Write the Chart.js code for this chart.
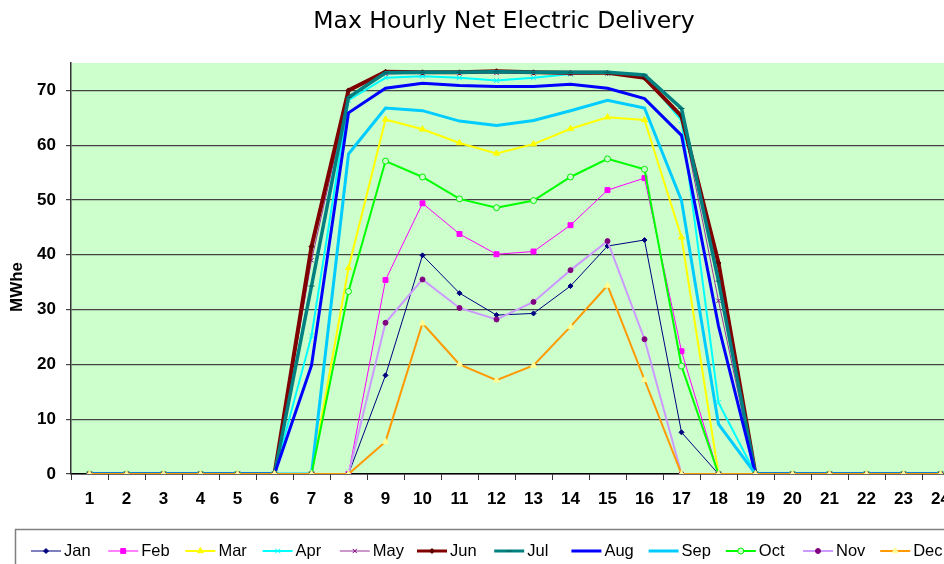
<!DOCTYPE html>
<html>
<head>
<meta charset="utf-8">
<title>Max Hourly Net Electric Delivery</title>
<script src="https://cdn.jsdelivr.net/npm/chart.js"></script>
<style>
  html, body { margin: 0; padding: 0; background: #fff; overflow: hidden; }
  canvas { display: block; }
</style>
</head>
<body>
<canvas id="deliveryChart" width="1008" height="564"></canvas>
<script>
const hours = ['1','2','3','4','5','6','7','8','9','10','11','12','13','14','15','16','17','18','19','20','21','22','23','24'];
const monthNames = ['Jan','Feb','Mar','Apr','May','Jun','Jul','Aug','Sep','Oct','Nov','Dec'];

const jan = [0,0,0,0,0,0,0,0,18.0,39.9,33.0,29.0,29.3,34.3,41.6,42.7,7.6,0,0,0,0,0,0,0];
const feb = [0,0,0,0,0,0,0,0,35.4,49.4,43.8,40.1,40.6,45.4,51.8,54.0,22.4,0,0,0,0,0,0,0];
const mar = [0,0,0,0,0,0,0,37.6,64.7,62.9,60.4,58.5,60.2,63.0,65.1,64.6,43.2,0,0,0,0,0,0,0];
const apr = [0,0,0,0,0,0,25.2,68.2,72.3,72.6,72.3,71.8,72.3,73.0,73.2,72.6,64.5,13.0,0,0,0,0,0,0];
const may = [0,0,0,0,0,0,39.0,69.0,73.0,73.1,73.1,73.2,73.1,73.0,73.1,72.5,65.5,31.6,0,0,0,0,0,0];
const jun = [0,0,0,0,0,0,41.5,70.0,73.4,73.3,73.3,73.5,73.3,73.2,73.2,72.3,65.3,38.5,0,0,0,0,0,0];
const jul = [0,0,0,0,0,0,34.3,68.7,73.2,73.3,73.3,73.4,73.3,73.3,73.3,72.8,66.7,35.2,0,0,0,0,0,0];
const aug = [0,0,0,0,0,0,19.8,65.9,70.4,71.3,70.9,70.7,70.7,71.1,70.4,68.5,61.8,27.0,0,0,0,0,0,0];
const sep = [0,0,0,0,0,0,0,58.4,66.8,66.3,64.4,63.6,64.5,66.3,68.2,66.8,49.9,9.1,0,0,0,0,0,0];
const oct = [0,0,0,0,0,0,0,33.3,57.1,54.2,50.2,48.6,49.9,54.2,57.5,55.6,19.7,0,0,0,0,0,0,0];
const nov = [0,0,0,0,0,0,0,0,27.6,35.5,30.3,28.2,31.4,37.2,42.5,24.6,0,0,0,0,0,0,0,0];
const dec = [0,0,0,0,0,0,0,0,5.9,27.5,20.0,17.1,19.8,26.9,34.4,17.2,0,0,0,0,0,0,0,0];

const yTicks = [0,10,20,30,40,50,60,70];

// look of each month's line, in month order
const styles = [
  { color: '#000080', width: 1,   point: 'rectRot',  radius: 2.5, fill: '#000080', edge: '#000080' },
  { color: '#FF00FF', width: 1,   point: 'rect',     radius: 3.5, fill: '#FF00FF', edge: '#FF00FF' },
  { color: '#FFFF00', width: 2,   point: 'triangle', radius: 3.5, fill: '#FFFF00', edge: '#FFFF00' },
  { color: '#00FFFF', width: 2,   point: 'crossRot', radius: 3.5, fill: '#00FFFF', edge: '#00FFFF' },
  { color: '#993399', width: 1,   point: 'crossRot', radius: 3,   fill: '#800080', edge: '#800080' },
  { color: '#800000', width: 4,   point: 'rectRot',  radius: 2.5, fill: '#600000', edge: '#600000' },
  { color: '#008080', width: 3.5, point: 'line',     radius: 3,   fill: '#006060', edge: '#006060' },
  { color: '#0000FF', width: 3,   point: false,      radius: 0,   fill: '#0000FF', edge: '#0000FF' },
  { color: '#00CCFF', width: 3,   point: false,      radius: 0,   fill: '#00CCFF', edge: '#00CCFF' },
  { color: '#00FF00', width: 2,   point: 'circle',   radius: 3,   fill: '#CCFFCC', edge: '#00EE00' },
  { color: '#CC99FF', width: 2,   point: 'circle',   radius: 2.5, fill: '#800080', edge: '#800080' },
  { color: '#FF9900', width: 2,   point: 'triangle', radius: 3.5, fill: '#FFFF99', edge: '#FFFF99' }
];

const series = [jan, feb, mar, apr, may, jun, jul, aug, sep, oct, nov, dec];

const datasets = series.map((values, i) => {
  const s = styles[i];
  return {
    label: monthNames[i],
    data: values,
    borderColor: s.color,
    borderWidth: s.width,
    backgroundColor: s.fill,
    pointStyle: s.point,
    pointRadius: s.radius,
    pointBackgroundColor: s.fill,
    pointBorderColor: s.edge,
    pointBorderWidth: 1,
    tension: 0,
    fill: false,
    order: series.length - 1 - i
  };
});

const extras = {
  id: 'extras',
  beforeDraw(chart) {
    const { ctx, chartArea } = chart;
    ctx.save();
    ctx.fillStyle = '#CCFFCC';
    ctx.fillRect(chartArea.left, chartArea.top, chartArea.right - chartArea.left, chartArea.bottom - chartArea.top);
    ctx.restore();
  },
  afterDraw(chart) {
    const { ctx } = chart;
    ctx.save();

    // title
    ctx.fillStyle = '#000';
    ctx.font = '23.5px "DejaVu Sans"';
    ctx.textAlign = 'center';
    ctx.textBaseline = 'alphabetic';
    ctx.fillText('Max Hourly Net Electric Delivery', 504, 28);

    // y axis title
    ctx.save();
    ctx.translate(17, 287);
    ctx.rotate(-Math.PI / 2);
    ctx.font = 'bold 17px "Liberation Sans"';
    ctx.textBaseline = 'middle';
    ctx.fillText('MWhe', 0, 0);
    ctx.restore();

    // legend
    ctx.strokeStyle = '#808080';
    ctx.lineWidth = 1.5;
    ctx.strokeRect(15.5, 529.5, 1100, 60);
    ctx.font = '16.5px "Liberation Sans"';
    ctx.textAlign = 'left';
    ctx.textBaseline = 'middle';
    const ly = 551;
    chart.data.datasets.forEach((ds, i) => {
      const s = styles[i];
      const x0 = 31 + i * 77.2;
      ctx.strokeStyle = s.color;
      ctx.lineWidth = Math.min(s.width, 3);
      ctx.beginPath();
      ctx.moveTo(x0, ly);
      ctx.lineTo(x0 + 30, ly);
      ctx.stroke();
      if (s.point && Chart.helpers && Chart.helpers.drawPoint) {
        ctx.fillStyle = s.fill;
        ctx.strokeStyle = s.edge;
        ctx.lineWidth = 1;
        Chart.helpers.drawPoint(ctx, { pointStyle: s.point, radius: s.radius, rotation: 0, borderWidth: 1 }, x0 + 15, ly);
      }
      ctx.fillStyle = '#000';
      ctx.fillText(ds.label, x0 + 33, ly);
    });
    ctx.restore();
  }
};

new Chart(document.getElementById('deliveryChart'), {
  type: 'line',
  data: { labels: hours, datasets: datasets },
  options: {
    responsive: false,
    animation: false,
    layout: { padding: { top: 63, right: 49, bottom: 50, left: 0 } },
    plugins: {
      legend: { display: false },
      title: { display: false },
      tooltip: { enabled: false }
    },
    scales: {
      x: {
        offset: true,
        grid: { offset: true, drawOnChartArea: false, drawTicks: true, tickLength: 6, color: '#333' },
        border: { color: '#000', width: 1.5 },
        ticks: { color: '#000', font: { family: 'Liberation Sans', size: 17, weight: 'bold' }, padding: 9, maxRotation: 0, autoSkip: false },
        afterFit(scale) { scale.height = 40; }
      },
      y: {
        min: 0,
        max: 75,
        afterBuildTicks(scale) { scale.ticks = yTicks.map(v => ({ value: v })); },
        grid: { color: '#444', lineWidth: 1.2, drawTicks: true, tickLength: 5 },
        border: { color: '#333', width: 1.5 },
        ticks: { color: '#000', font: { family: 'Liberation Sans', size: 17, weight: 'bold' }, padding: 10 },
        afterFit(scale) { scale.width = 71; }
      }
    }
  },
  plugins: [extras]
});
</script>
</body>
</html>
